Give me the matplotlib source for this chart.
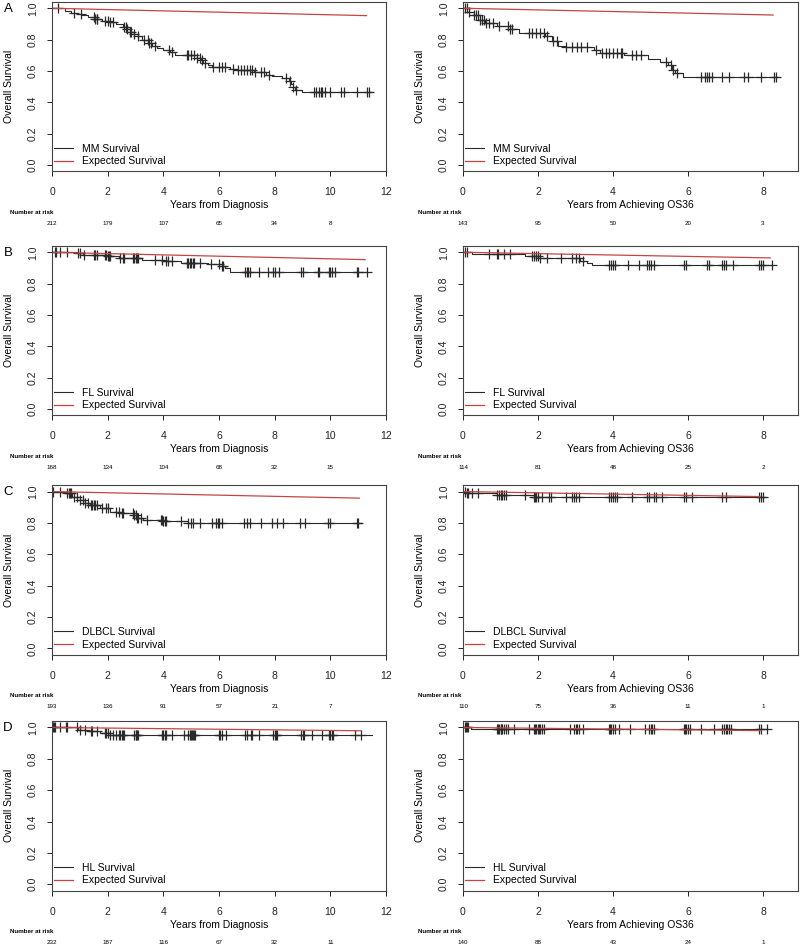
import numpy as np
import matplotlib
matplotlib.use("Agg")
import matplotlib.pyplot as plt
from matplotlib.lines import Line2D

plt.rcParams['font.family'] = ['Liberation Sans', 'DejaVu Sans']

# ---- data ---------------------------------------------------------------
# step times / survival after each drop, end of follow-up, censor times
mm_dx_t = [0.45, 0.7, 0.9, 1.07, 1.3, 1.55, 1.8, 2.08, 2.3, 2.56, 2.7, 2.8, 2.95, 3.1, 3.25,
           3.46, 3.6, 3.76, 4.0, 4.24, 4.42, 5.2, 5.35, 5.44, 5.6, 5.74, 6.4, 6.6, 7.25, 7.7,
           7.9, 8.25, 8.5, 8.6, 8.65, 8.73, 8.97]
mm_dx_s = [0.985, 0.97, 0.962, 0.955, 0.945, 0.93, 0.92, 0.91, 0.9, 0.88, 0.865, 0.85, 0.835,
           0.82, 0.80, 0.78, 0.76, 0.745, 0.735, 0.723, 0.70, 0.685, 0.67, 0.653, 0.64, 0.627,
           0.615, 0.605, 0.595, 0.575, 0.565, 0.553, 0.535, 0.515, 0.497, 0.48, 0.465]
mm_dx_end = 11.45
mm_dx_cens = [0.2, 0.8, 1.05, 1.5, 1.55, 1.6, 1.62, 1.9, 2.0, 2.1, 2.2, 2.6, 2.65, 2.7, 2.8,
              2.85, 2.95, 3.1, 3.3, 3.45, 3.5, 3.55, 3.7, 4.2, 4.3, 4.85, 4.9, 5.0, 5.1, 5.2,
              5.3, 5.4, 5.5, 5.8, 6.0, 6.1, 6.2, 6.5, 6.7, 6.8, 6.9, 7.0, 7.1, 7.2, 7.3, 7.5,
              7.6, 7.8, 8.4, 8.55, 8.65, 8.75, 9.4, 9.5, 9.6, 9.65, 9.7, 9.8, 10.0, 10.4, 10.5,
              10.95, 11.3, 11.4]
mm_dx_exp = [1.0, 0.953]
mm_dx_exp_end = 11.3
mm_dx_risk = [212, 179, 107, 65, 34, 8]

mm_os_t = [0.15, 0.28, 0.45, 0.59, 0.9, 1.25, 1.48, 2.19, 2.37, 2.54, 2.72, 3.48, 3.65, 4.28,
           4.94, 5.25, 5.47, 5.56, 5.65, 5.86]
mm_os_s = [0.975, 0.957, 0.925, 0.905, 0.887, 0.866, 0.845, 0.82, 0.793, 0.761, 0.75, 0.734,
           0.713, 0.70, 0.676, 0.655, 0.638, 0.606, 0.585, 0.563]
mm_os_end = 8.37
mm_os_cens = [0.05, 0.1, 0.15, 0.3, 0.35, 0.4, 0.45, 0.5, 0.55, 0.6, 0.7, 0.8, 0.95, 1.2, 1.25,
              1.3, 1.75, 1.85, 1.95, 2.05, 2.15, 2.25, 2.4, 2.5, 2.75, 2.9, 3.05, 3.15, 3.3,
              3.55, 3.7, 3.8, 3.9, 4.0, 4.1, 4.2, 4.25, 4.5, 4.6, 4.75, 5.4, 5.55, 5.6, 5.7,
              6.35, 6.45, 6.5, 6.55, 6.65, 6.9, 7.1, 7.5, 7.6, 7.95, 8.3, 8.35]
mm_os_exp = [1.0, 0.957]
mm_os_exp_end = 8.27
mm_os_risk = [143, 95, 50, 20, 3]

fl_dx_t = [0.9, 1.13, 1.96, 2.4, 3.22, 4.0, 4.63, 5.6, 6.1, 6.22, 6.4]
fl_dx_s = [0.995, 0.985, 0.975, 0.964, 0.953, 0.943, 0.932, 0.925, 0.915, 0.90, 0.876]
fl_dx_end = 11.3
fl_dx_cens = [0.12, 0.15, 0.3, 0.55, 0.95, 1.0, 1.15, 1.5, 1.55, 1.6, 1.9, 1.95, 2.0, 2.05, 2.1,
              2.45, 2.55, 2.6, 2.9, 2.95, 3.0, 3.05, 3.1, 3.7, 3.95, 4.1, 4.15, 4.3, 4.85, 4.9,
              4.95, 5.0, 5.05, 5.1, 5.3, 5.7, 6.0, 6.1, 6.15, 6.95, 7.0, 7.05, 7.1, 7.45, 7.75,
              7.95, 8.0, 8.15, 8.95, 9.0, 9.55, 9.6, 9.95, 10.0, 10.05, 10.15, 10.95, 11.0, 11.3]
fl_dx_exp = [1.0, 0.953]
fl_dx_exp_end = 11.25
fl_dx_risk = [168, 134, 104, 68, 32, 15]

fl_os_t = [0.23, 1.65, 2.05, 3.12, 3.3, 3.43]
fl_os_s = [0.99, 0.979, 0.964, 0.947, 0.932, 0.918]
fl_os_end = 8.25
fl_os_cens = [0.05, 0.1, 0.7, 0.9, 0.92, 1.1, 1.25, 1.85, 1.9, 1.95, 2.0, 2.05, 2.25, 2.6, 2.9,
              3.0, 3.1, 3.2, 3.9, 3.95, 4.0, 4.05, 4.4, 4.7, 4.9, 4.95, 5.0, 5.1, 5.9, 5.95,
              6.5, 6.55, 6.9, 6.95, 7.0, 7.2, 7.9, 7.95, 8.0, 8.25]
fl_os_exp = [1.0, 0.964]
fl_os_exp_end = 8.19
fl_os_risk = [114, 81, 48, 25, 2]

dl_dx_t = [0.53, 0.71, 1.0, 1.2, 1.37, 1.72, 2.08, 2.44, 2.92, 3.04, 3.28, 4.0, 4.9]
dl_dx_s = [0.99, 0.968, 0.947, 0.93, 0.915, 0.894, 0.872, 0.865, 0.851, 0.83, 0.82, 0.81, 0.802]
dl_dx_end = 11.1
dl_dx_cens = [0.05, 0.3, 0.55, 0.6, 0.65, 0.7, 0.8, 0.9, 1.0, 1.1, 1.2, 1.3, 1.4, 1.45, 1.5, 1.55,
              1.6, 1.8, 1.95, 2.0, 2.3, 2.4, 2.5, 2.55, 2.9, 2.95, 3.0, 3.05, 3.1, 3.2, 3.4,
              3.9, 3.95, 4.0, 4.05, 4.1, 4.65, 4.9, 5.0, 5.05, 5.3, 5.75, 5.9, 5.95, 6.0, 6.1,
              6.9, 7.0, 7.1, 7.5, 7.9, 8.1, 8.3, 8.9, 9.1, 9.9, 10.0, 10.95, 11.0]
dl_dx_exp = [1.0, 0.958]
dl_dx_exp_end = 11.04
dl_dx_risk = [193, 136, 91, 57, 21, 7]

dl_os_t = [0.1, 0.9, 1.9]
dl_os_s = [0.99, 0.98, 0.964]
dl_os_end = 8.05
dl_os_cens = [0.05, 0.1, 0.12, 0.25, 0.4, 0.9, 0.95, 1.0, 1.05, 1.1, 1.15, 1.65, 1.9, 1.92, 1.95,
              2.0, 2.1, 2.3, 2.35, 2.75, 2.9, 2.95, 3.0, 3.1, 3.9, 3.95, 4.0, 4.05, 4.1, 4.5,
              4.9, 4.95, 5.1, 5.15, 5.3, 5.9, 5.95, 6.1, 6.9, 7.0, 7.9, 7.95, 8.0]
dl_os_exp = [1.0, 0.968]
dl_os_exp_end = 7.92
dl_os_risk = [110, 75, 36, 11, 1]

hl_dx_t = [0.95, 1.3, 1.72, 2.08]
hl_dx_s = [0.983, 0.975, 0.962, 0.952]
hl_dx_end = 11.5
hl_dx_cens = [0.05, 0.08, 0.1, 0.3, 0.5, 0.55, 0.9, 1.0, 1.2, 1.4, 1.45, 1.6, 1.9, 1.95, 2.0, 2.1,
              2.2, 2.3, 2.4, 2.45, 2.5, 2.55, 2.6, 2.95, 3.0, 3.02, 3.05, 3.1, 3.95, 4.0, 4.05,
              4.1, 4.3, 4.75, 4.9, 4.95, 5.0, 5.02, 5.05, 5.1, 5.15, 6.0, 6.05, 6.1, 6.25, 6.95,
              7.0, 7.15, 7.2, 7.45, 7.95, 8.0, 8.05, 8.1, 8.95, 9.0, 9.05, 9.35, 9.7, 9.95,
              10.0, 10.05, 10.1, 10.9, 11.1]
hl_dx_exp = [1.0, 0.979]
hl_dx_exp_end = 11.1
hl_dx_risk = [232, 187, 116, 67, 32, 11]

hl_os_t = [0.2]
hl_os_s = [0.99]
hl_os_end = 8.1
hl_os_cens = [0.05, 0.08, 0.1, 0.12, 0.9, 0.92, 0.95, 1.0, 1.02, 1.05, 1.1, 1.15, 1.2, 1.35, 1.75,
              1.9, 1.92, 1.95, 2.0, 2.02, 2.05, 2.1, 2.15, 2.85, 2.95, 3.0, 3.05, 3.1, 3.2, 3.9,
              3.92, 3.95, 4.0, 4.05, 4.15, 4.45, 4.85, 4.95, 5.0, 5.05, 5.1, 5.9, 5.92, 5.95,
              6.0, 6.05, 6.35, 6.7, 6.9, 6.95, 7.0, 7.05, 7.1, 7.15, 7.9, 7.95, 8.1]
hl_os_exp = [1.0, 0.98]
hl_os_exp_end = 7.95
hl_os_risk = [140, 88, 43, 24, 1]

dx_ticks = [0, 2, 4, 6, 8, 10, 12]
os_ticks = [0, 2, 4, 6, 8]
y_ticks = [0.0, 0.2, 0.4, 0.6, 0.8, 1.0]
y_ticklabels = ["0.0", "0.2", "0.4", "0.6", "0.8", "1.0"]

KM_COL = '#2a2a2a'
EXP_COL = '#c44545'
FS = 7.5
PX = 0.72  # points per pixel at dpi 100


def km_panel(ax, t, s, t_end, cens, exp_s, exp_end, name, xmax, xticks, risk, xlabel, risk_x):
    tt = np.r_[0.0, t, t_end]
    ss = np.r_[1.0, s, s[-1]]
    ax.step(tt, ss, where='post', color=KM_COL, lw=0.8)
    # censor marks sit on the curve
    c = np.asarray(cens)
    idx = np.searchsorted(tt, c, side='right') - 1
    ax.plot(c, ss[idx], ls='none', marker='+', ms=7, mew=0.9, color=KM_COL)
    ax.plot([0, exp_end], exp_s, color=EXP_COL, lw=0.9)

    ax.set_xlim(0, xmax)
    ax.set_ylim(-0.04, 1.04)
    ax.set_xticks(xticks)
    ax.set_xticklabels([str(x) for x in xticks], fontsize=FS)
    ax.set_yticks(y_ticks)
    ax.set_yticklabels(y_ticklabels, fontsize=FS, rotation=90, va='center')
    ax.tick_params(axis='x', length=3.6, width=0.7, pad=8, colors='#222222')
    ax.tick_params(axis='y', length=3.6, width=0.7, pad=6.5, colors='#222222')
    for sp in ax.spines.values():
        sp.set_linewidth(0.8)
        sp.set_color('#444444')

    h = ax.get_position().height * 944
    ax.set_xlabel(xlabel, fontsize=FS, va='center')
    ax.xaxis.set_label_coords(0.5, -34 / h)
    ax.set_ylabel("Overall Survival", fontsize=FS, va='center')
    ax.yaxis.set_label_coords(-43 / 334, 0.5)

    handles = [Line2D([], [], color=KM_COL, lw=0.8), Line2D([], [], color=EXP_COL, lw=0.9)]
    ax.legend(handles, [name + " Survival", "Expected Survival"], loc='lower left',
              bbox_to_anchor=(0.005, 0.03), frameon=False, fontsize=FS,
              handlelength=1.9, handletextpad=0.8, labelspacing=0.25, borderpad=0,
              borderaxespad=0)

    fig = ax.figure
    bot = ax.get_position().y0 * 944
    fig.text(risk_x / 800, (bot - 41) / 944, "Number at risk", fontsize=4.5,
             fontweight='bold', ha='left', va='center')
    for x, n in zip(xticks, risk):
        ax.annotate(str(n), xy=(x, 0), xycoords=('data', 'axes fraction'),
                    xytext=(0, -52 * PX), textcoords='offset points',
                    ha='center', va='center', fontsize=4.5)


fig = plt.figure(figsize=(8, 9.44), dpi=100)

row_bottoms = [171.3, 415.3, 654.6, 890.5]
row_h = 169.3
letters = ["A", "B", "C", "D"]
panels = [
    ((mm_dx_t, mm_dx_s, mm_dx_end, mm_dx_cens, mm_dx_exp, mm_dx_exp_end, "MM", mm_dx_risk),
     (mm_os_t, mm_os_s, mm_os_end, mm_os_cens, mm_os_exp, mm_os_exp_end, "MM", mm_os_risk)),
    ((fl_dx_t, fl_dx_s, fl_dx_end, fl_dx_cens, fl_dx_exp, fl_dx_exp_end, "FL", fl_dx_risk),
     (fl_os_t, fl_os_s, fl_os_end, fl_os_cens, fl_os_exp, fl_os_exp_end, "FL", fl_os_risk)),
    ((dl_dx_t, dl_dx_s, dl_dx_end, dl_dx_cens, dl_dx_exp, dl_dx_exp_end, "DLBCL", dl_dx_risk),
     (dl_os_t, dl_os_s, dl_os_end, dl_os_cens, dl_os_exp, dl_os_exp_end, "DLBCL", dl_os_risk)),
    ((hl_dx_t, hl_dx_s, hl_dx_end, hl_dx_cens, hl_dx_exp, hl_dx_exp_end, "HL", hl_dx_risk),
     (hl_os_t, hl_os_s, hl_os_end, hl_os_cens, hl_os_exp, hl_os_exp_end, "HL", hl_os_risk)),
]

for r, (left, right) in enumerate(panels):
    y0 = (944 - row_bottoms[r]) / 944
    axl = fig.add_axes([52 / 800, y0, 334 / 800, row_h / 944])
    km_panel(axl, *left[:7], 12, dx_ticks, left[7], "Years from Diagnosis", 10)
    axr = fig.add_axes([463 / 800, y0, 334.7 / 800, row_h / 944])
    km_panel(axr, *right[:7], 8.925, os_ticks, right[7], "Years from Achieving OS36", 418)
    fig.text(8 / 800, 1 - (row_bottoms[r] - row_h + 7) / 944, letters[r], fontsize=9.5,
             ha='center', va='center')

fig.savefig("out.png", dpi=100)
